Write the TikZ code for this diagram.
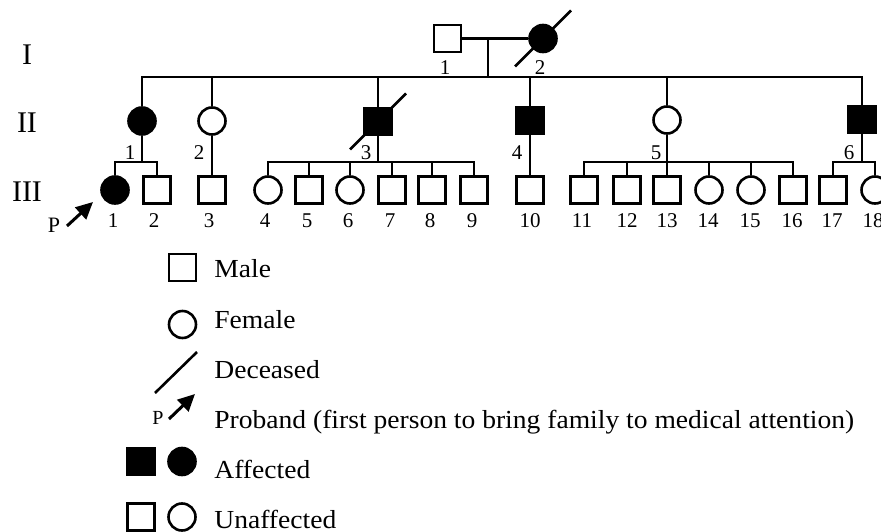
\documentclass[tikz,border=0pt]{standalone}
\usepackage{fontspec}
\setmainfont{Liberation Serif}
\usetikzlibrary{arrows.meta}

% slash through a deceased person
\newcommand{\slashdead}[1]{\draw ([shift={(-28,28)}]#1.center) -- ([shift={(28,-28)}]#1.center);}

\begin{document}
\begin{tikzpicture}[
    x=1pt, y=-1pt,
    line width=2.6pt,
    every node/.style={inner sep=0pt},
    male/.style={draw, rectangle, minimum size=27pt},
    female/.style={draw, circle, minimum size=27pt},
    affected/.style={fill=black},
    gen label/.style={font=\fontsize{30}{32}\selectfont},
    num label/.style={font=\fontsize{21}{23}\selectfont},
    key text/.style={anchor=base west, xscale=1.06, font=\fontsize{26}{28}\selectfont},
    proband/.style={-{Triangle[length=17pt,width=16pt]}, line width=3pt}
]
    \clip (0,0) rectangle (881,532);

    % Generation labels
    \node[gen label] (gI) at (27,54.5) {I};
    \node[gen label] (gII) at (27,123) {II};
    \node[gen label] (gIII) at (27,192) {III};

    % Generation I
    \node[male] (I1) at (447.5,38.5) {};
    \node[female, affected] (I2) at (543,38.5) {};
    \slashdead{I2}
    \node[num label] (nI1) at (445,68) {1};
    \node[num label] (nI2) at (540,68) {2};
    \coordinate (mate) at (488,38.5);
    \coordinate (s0) at (488,77);
    \draw (I1) -- (I2);
    \draw (mate) -- (s0);

    % Generation II
    \node[female, affected] (II1) at (142,121) {};
    \node[female] (II2) at (212,121) {};
    \node[male, affected] (II3) at (378,121.5) {};
    \slashdead{II3}
    \node[male, affected] (II4) at (530,120.5) {};
    \node[female] (II5) at (667,120) {};
    \node[male, affected] (II6) at (862,119.5) {};
    \draw (II1) |- (s0) -| (II6);
    \foreach \k in {2,...,5}
        \draw (II\k) -- (II\k |- s0);
    \foreach \k/\x in {1/130, 2/199, 3/366, 4/517, 5/656, 6/849}
        \node[num label] (nII\k) at (\x,153) {\k};

    % Generation III
    \node[female, affected] (III1) at (115,190) {};
    \node[male] (III2) at (157,190) {};
    \node[male] (III3) at (212,190) {};
    \node[female] (III4) at (268,190) {};
    \node[male] (III5) at (309,190) {};
    \node[female] (III6) at (350,190) {};
    \node[male] (III7) at (392,190) {};
    \node[male] (III8) at (432,190) {};
    \node[male] (III9) at (474,190) {};
    \node[male] (III10) at (530,190) {};
    \node[male] (III11) at (584,190) {};
    \node[male] (III12) at (627,190) {};
    \node[male] (III13) at (667,190) {};
    \node[female] (III14) at (709,190) {};
    \node[female] (III15) at (751,190) {};
    \node[male] (III16) at (793,190) {};
    \node[male] (III17) at (833,190) {};
    \node[female] (III18) at (875,190) {};
    \foreach \k/\x in {1/113, 2/154, 3/209, 4/265, 5/307, 6/348, 7/390, 8/430, 9/472,
        10/530, 11/582, 12/627, 13/667, 14/708, 15/750, 16/792, 17/832, 18/873}
        \node[num label] (nIII\k) at (\x,221) {\k};

    % Sibships of generation III
    \coordinate (c1) at (142,162);
    \coordinate (c3) at (378,162);
    \coordinate (c5) at (667,162);
    \coordinate (c6) at (862,162);
    \draw (II1) -- (c1);
    \draw (III1) |- (c1) -| (III2);
    \draw (II2) -- (III3);
    \draw (II3) -- (c3);
    \draw (III4) |- (c3) -| (III9);
    \foreach \k in {5,...,8}
        \draw (III\k) -- (III\k |- c3);
    \draw (II4) -- (III10);
    \draw (II5) -- (c5);
    \draw (III11) |- (c5) -| (III16);
    \foreach \k in {12,...,15}
        \draw (III\k) -- (III\k |- c5);
    \draw (II6) -- (c6);
    \draw (III17) |- (c6) -| (III18);

    % Proband
    \node[num label, font=\fontsize{22}{24}\selectfont] (pP) at (54,225) {P};
    \coordinate (pb) at (67,226);
    \coordinate (pt) at (93,202);
    \draw[proband] (pb) -- (pt);

    % Key
    \node[male] (km) at (182.5,267.5) {};
    \node[key text] (tm) at (213,277) {Male};
    \node[female] (kf) at (182.5,324.5) {};
    \node[key text] (tf) at (213,328) {Female};
    \coordinate (kd1) at (155,393);
    \coordinate (kd2) at (197,352);
    \draw (kd1) -- (kd2);
    \node[key text] (td) at (213,378) {Deceased};
    \node[num label, font=\fontsize{20}{22}\selectfont] (kP) at (158,418) {P};
    \coordinate (kpb) at (169,419);
    \coordinate (kpt) at (195,394);
    \draw[proband] (kpb) -- (kpt);
    \node[key text] (tp) at (213,428) {Proband (first person to bring family to medical attention)};
    \node[male, affected] (kam) at (141,461.5) {};
    \node[female, affected] (kaf) at (182,461.5) {};
    \node[key text] (ta) at (213,478) {Affected};
    \node[male] (kum) at (141,517) {};
    \node[female] (kuf) at (182,517) {};
    \node[key text] (tu) at (213,528) {Unaffected};
\end{tikzpicture}
\end{document}
